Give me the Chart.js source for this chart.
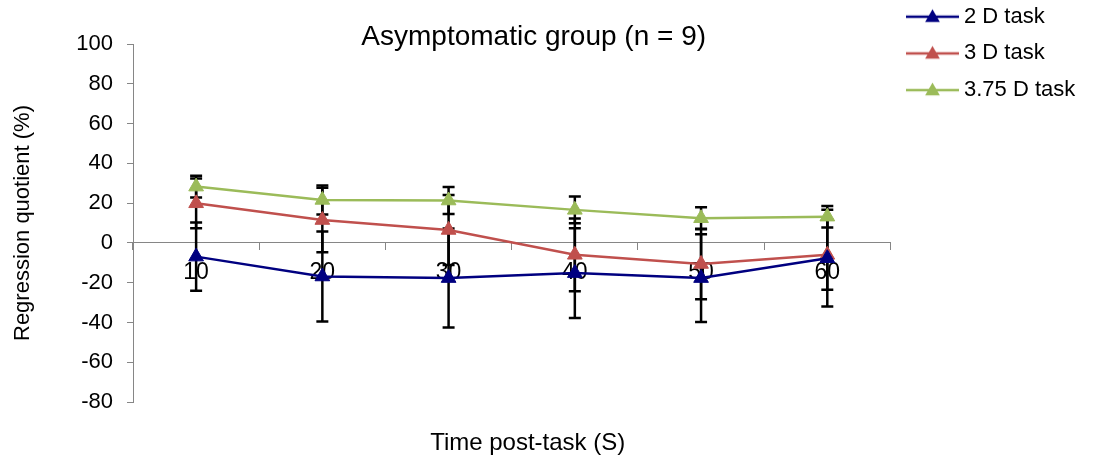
<!DOCTYPE html>
<html>
<head>
<meta charset="utf-8">
<script src="https://cdn.jsdelivr.net/npm/chart.js@4/dist/chart.umd.min.js"></script>
<style>
  html, body { margin: 0; padding: 0; background: #fff; }
  canvas { display: block; }
</style>
</head>
<body>
<canvas id="c" width="1098" height="461"></canvas>
<script>
// Regression quotient over time post-task, asymptomatic group, mean ± SD
const TITLE = 'Asymptomatic group (n = 9)';
const X_TITLE = 'Time post-task (S)';
const Y_TITLE = 'Regression quotient (%)';

const timeLabels = ['10', '20', '30', '40', '50', '60'];

const task2D = [-6.9, -16.9, -17.7, -15.2, -17.7, -7.7];
const task2DErr = [17.2, 22.6, 24.9, 22.6, 22.1, 24.3];

const task3D = [19.9, 11.5, 6.5, -6, -10.6, -6];
const task3DErr = [12.5, 16.2, 17.6, 18.3, 17.7, 17.6];

const task375D = [28.3, 21.6, 21.3, 16.6, 12.4, 13.2];
const task375DErr = [5.5, 7.3, 6.8, 6.7, 5.5, 5.4];

const COLORS = ['#000080', '#C0504D', '#9BBB59'];
const AXIS_GRAY = '#868686';
const FONT = 'Liberation Sans, Arial, sans-serif';
const CAP = 6;

// small line+triangle sample for the legend
function legendIcon(color) {
  const c = document.createElement('canvas');
  c.width = 53; c.height = 20;
  const g = c.getContext('2d');
  g.strokeStyle = color; g.lineWidth = 2.5;
  g.beginPath(); g.moveTo(0, 10); g.lineTo(53, 10); g.stroke();
  const r = 8.5, cx = 26.5, cy = 11;
  g.fillStyle = color;
  g.beginPath();
  g.moveTo(cx, cy - r);
  g.lineTo(cx + r * Math.sin(Math.PI / 3), cy + r / 2);
  g.lineTo(cx - r * Math.sin(Math.PI / 3), cy + r / 2);
  g.closePath(); g.fill();
  return c;
}
const icons = COLORS.map(legendIcon);

// black SD bars, drawn under the lines and markers
const errorBars = {
  id: 'errorBars',
  beforeDatasetsDraw(chart) {
    const { ctx, scales: { y } } = chart;
    ctx.save();
    ctx.strokeStyle = '#000';
    ctx.lineWidth = 2.5;
    chart.data.datasets.forEach((ds, i) => {
      chart.getDatasetMeta(i).data.forEach((pt, j) => {
        const v = ds.data[j], e = ds.errors[j];
        const top = y.getPixelForValue(v + e), bot = y.getPixelForValue(v - e);
        ctx.beginPath();
        ctx.moveTo(pt.x, top); ctx.lineTo(pt.x, bot);
        ctx.moveTo(pt.x - CAP, top); ctx.lineTo(pt.x + CAP, top);
        ctx.moveTo(pt.x - CAP, bot); ctx.lineTo(pt.x + CAP, bot);
        ctx.stroke();
      });
    });
    ctx.restore();
  },
};

// move the legend to the top right corner, above the plot
const legendPlace = {
  id: 'legendPlace',
  afterLayout(chart) {
    const lg = chart.legend;
    lg.left = 897.3;
    lg.top = -9;
  },
};

// chart title and x axis title (the x axis sits at y = 0 inside the plot)
const titles = {
  id: 'titles',
  afterDraw(chart) {
    const { ctx, chartArea: a } = chart;
    const mid = (a.left + a.right) / 2;
    ctx.save();
    ctx.fillStyle = '#000';
    ctx.textAlign = 'center';
    ctx.textBaseline = 'middle';
    ctx.font = `28px ${FONT}`;
    ctx.fillText(TITLE, mid + 22, a.top - 7);
    ctx.font = `24px ${FONT}`;
    ctx.fillText(X_TITLE, mid + 16, a.bottom + 41);
    ctx.restore();
  },
};

const mk = (label, data, errors, color) => ({
  label, data, errors,
  borderColor: color, backgroundColor: color,
  borderWidth: 2.5, tension: 0,
  pointStyle: 'triangle', pointRadius: 8.5,
  pointBackgroundColor: color, pointBorderColor: color, pointBorderWidth: 1,
});

new Chart(document.getElementById('c'), {
  type: 'line',
  data: {
    labels: timeLabels,
    datasets: [
      mk('2 D task', task2D, task2DErr, COLORS[0]),
      mk('3 D task', task3D, task3DErr, COLORS[1]),
      mk('3.75 D task', task375D, task375DErr, COLORS[2]),
    ],
  },
  options: {
    responsive: false, devicePixelRatio: 1, animation: false, events: [],
    layout: { padding: { top: 44, bottom: 59, left: 0, right: 19.6 } },
    plugins: {
      tooltip: { enabled: false },
      legend: {
        position: 'right', align: 'start',
        labels: {
          usePointStyle: true, pointStyleWidth: 41, padding: 14.7,
          color: '#000', font: { family: FONT, size: 22 },
          generateLabels: (chart) => Chart.defaults.plugins.legend.labels.generateLabels(chart)
            .map((l, i) => ({ ...l, pointStyle: icons[i] })),
        },
      },
    },
    scales: {
      x: {
        type: 'category', position: { y: 0 }, offset: true,
        grid: { offset: true, drawOnChartArea: false, drawTicks: true, tickLength: 7, color: AXIS_GRAY },
        border: { color: AXIS_GRAY, width: 1 },
        ticks: { color: '#000', font: { family: FONT, size: 23 }, padding: 9, maxRotation: 0 },
      },
      y: {
        min: -80, max: 100,
        afterFit: (s) => { s.width = 133; },
        grid: { drawOnChartArea: false, drawTicks: true, tickLength: 6, color: AXIS_GRAY },
        border: { color: AXIS_GRAY, width: 1 },
        ticks: { stepSize: 20, color: '#000', font: { family: FONT, size: 22 }, padding: 14 },
        title: { display: true, text: Y_TITLE, color: '#000', font: { family: FONT, size: 22 }, padding: { top: 9.5, bottom: 0 } },
      },
    },
  },
  plugins: [errorBars, legendPlace, titles],
});
</script>
</body>
</html>
